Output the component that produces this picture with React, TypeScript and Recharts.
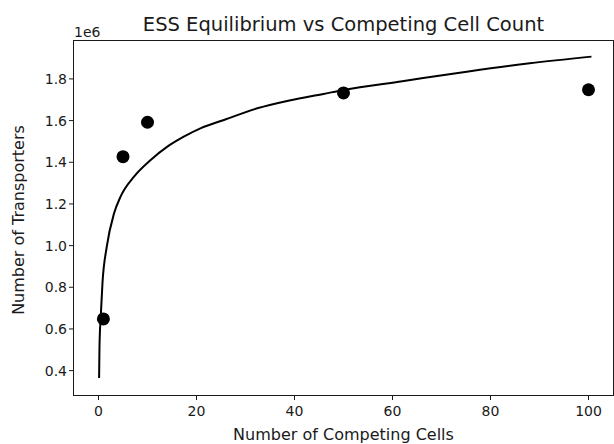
import {
  ComposedChart,
  Line,
  Scatter,
  XAxis,
  YAxis,
} from "recharts";

// simulated ESS equilibria
const cellCounts = [1, 5, 10, 50, 100];
const essTransporters = [648000, 1427000, 1592000, 1733000, 1748000];

// fitted curve
const fitCells = [
  0.12, 0.2, 0.47, 0.81, 1.69, 3.18, 4.5, 7.25, 10.65, 14.05, 17.4, 20.8, 25.6, 32.4, 39.2, 45.9,
  50, 62, 75.5, 88, 100.6,
];
const fitTransporters = [
  364000, 515000, 665000, 820000, 995000, 1155000, 1235000, 1331000, 1411000, 1475000, 1523000,
  1563000, 1603000, 1659000, 1698000, 1728000, 1747000, 1789000, 1836000, 1875000, 1907000,
];

const xTicks = [0, 20, 40, 60, 80, 100];
const yTicks = [400000, 600000, 800000, 1000000, 1200000, 1400000, 1600000, 1800000];

const points = cellCounts.map((x, i) => ({ x, y: essTransporters[i] }));
const fit = fitCells.map((x, i) => ({ x, y: fitTransporters[i] }));

const font = "'DejaVu Sans', sans-serif";
const ink = "#1a1a1a";
const tickStyle = { fontSize: 14, fill: ink, fontFamily: font };

export default function App() {
  return (
    <div style={{ position: "absolute", left: 0, top: 0, width: 614, height: 444, fontFamily: font, color: ink }}>
      <ComposedChart
        width={614}
        height={444}
        margin={{ top: 41, right: 1, bottom: 19, left: 34 }}
      >
        <XAxis
          type="number"
          dataKey="x"
          domain={[-5, 105]}
          ticks={xTicks}
          height={30}
          tickSize={5}
          tickMargin={6}
          tick={tickStyle}
          axisLine={false}
          stroke={ink}
          allowDataOverflow
        />
        <YAxis
          type="number"
          dataKey="y"
          domain={[283000, 1982000]}
          ticks={yTicks}
          width={40}
          tickSize={5}
          tick={tickStyle}
          tickFormatter={(v: number) => (v / 1e6).toFixed(1)}
          axisLine={false}
          stroke={ink}
          allowDataOverflow
        />
        <Line
          data={fit}
          dataKey="y"
          type="monotone"
          stroke="#000"
          strokeWidth={2}
          dot={false}
          activeDot={false}
          isAnimationActive={false}
        />
        <Scatter
          data={points}
          dataKey="y"
          fill="#000"
          shape={(p: any) => <circle cx={p.cx} cy={p.cy} r={6.5} fill="#000" />}
          isAnimationActive={false}
        />
      </ComposedChart>
      {/* axes frame */}
      <div
        style={{
          position: "absolute",
          left: 73,
          top: 40,
          width: 541,
          height: 356,
          boxSizing: "border-box",
          border: `1px solid ${ink}`,
          pointerEvents: "none",
        }}
      />
      <div style={{ position: "absolute", left: 74, width: 539, top: 14, textAlign: "center", fontSize: 19.5, lineHeight: "22px" }}>
        ESS Equilibrium vs Competing Cell Count
      </div>
      <div style={{ position: "absolute", left: 74, top: 24, fontSize: 14, lineHeight: "16px" }}>1e6</div>
      <div style={{ position: "absolute", left: 74, width: 539, top: 426, textAlign: "center", fontSize: 16, lineHeight: "18px", whiteSpace: "nowrap" }}>
        Number of Competing Cells
      </div>
      <div
        style={{
          position: "absolute",
          left: 19,
          top: 220,
          fontSize: 16,
          lineHeight: "18px",
          whiteSpace: "nowrap",
          transform: "translate(-50%, -50%) rotate(-90deg)",
        }}
      >
        Number of Transporters
      </div>
    </div>
  );
}
